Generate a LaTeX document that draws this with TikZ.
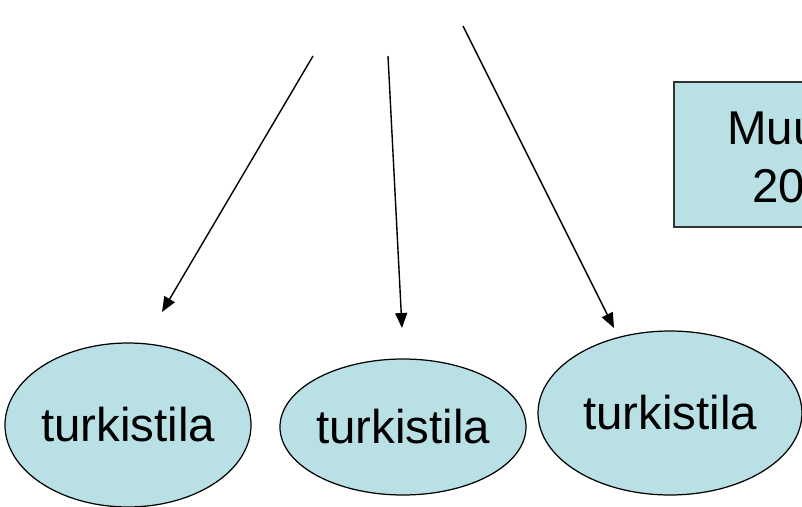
\documentclass[tikz,border=0pt]{standalone}
\usepackage{fontspec}
\setmainfont{Liberation Sans}
\usetikzlibrary{shapes.geometric, arrows.meta, positioning}
\definecolor{farmfill}{HTML}{B9E0E4}
\definecolor{boxedge}{HTML}{333333}
\tikzset{
  farmnode/.style={ellipse, draw=black, line width=0.7pt, fill=farmfill, inner sep=0pt, font=\fontsize{27}{27}\selectfont},
  linkarrow/.style={line width=0.8pt, -{Triangle[length=0.3cm, width=0.24cm]}},
  boxtext/.style={anchor=base west, inner sep=0pt, font=\fontsize{27}{27}\selectfont}
}

\begin{document}
\begin{tikzpicture}[x=0.02cm, y=-0.02cm]
  % Page frame
  \useasboundingbox (0,0) rectangle (802,507);

  % Note box (cut off at the right edge)
  \fill[farmfill] (674,82) rectangle (830,227);
  \draw[boxedge, line width=0.7pt] (830,82) -- (674,82) -- (674,227) -- (830,227);
  \node[boxtext] (boxline1) at (727,144) {Muu};
  \node[boxtext] (boxline2) at (752,202) {20};

  % Fur farms
  \node[farmnode, minimum width=4.88cm, minimum height=3.28cm] (farm1) at (128,425) {turkistila};
  \node[farmnode, minimum width=4.84cm, minimum height=2.72cm] (farm2) at (403,427) {turkistila};
  \node[farmnode, minimum width=5.28cm, minimum height=3.28cm] (farm3) at (670,413) {turkistila};

  % Arrow ends
  \coordinate (src1) at (313,56);
  \coordinate (src2) at (388,56);
  \coordinate (src3) at (463,26);
  \coordinate (tip1) at (162,312);
  \coordinate (tip2) at (402,328);
  \coordinate (tip3) at (614,328);

  % Arrows
  \draw[linkarrow] (src1) -- (tip1);
  \draw[linkarrow] (src2) -- (tip2);
  \draw[linkarrow] (src3) -- (tip3);
\end{tikzpicture}
\end{document}
